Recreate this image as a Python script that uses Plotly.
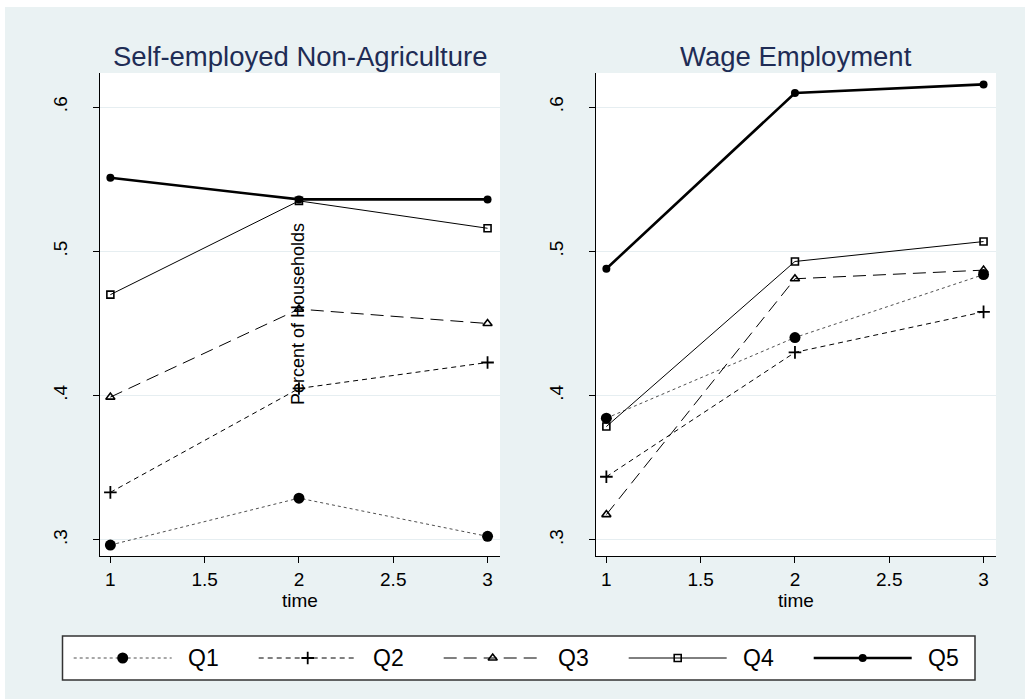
import plotly.graph_objects as go

# Share of households by income quintile, three survey rounds
time = [1, 2, 3]
quintiles = ["Q1", "Q2", "Q3", "Q4", "Q5"]

self_employed = {
    "Q1": [0.2965, 0.329, 0.3025],
    "Q2": [0.333, 0.405, 0.423],
    "Q3": [0.399, 0.460, 0.450],
    "Q4": [0.470, 0.535, 0.516],
    "Q5": [0.551, 0.536, 0.536],
}
wage_employment = {
    "Q1": [0.3844, 0.4403, 0.4839],
    "Q2": [0.3438, 0.430, 0.4581],
    "Q3": [0.3176, 0.481, 0.487],
    "Q4": [0.3786, 0.493, 0.5068],
    "Q5": [0.488, 0.6097, 0.6157],
}

panel_titles = ["Self-employed Non-Agriculture", "Wage Employment"]
y_ticks = [0.3, 0.4, 0.5, 0.6]
y_tick_text = [".3", ".4", ".5", ".6"]
x_ticks = [1, 1.5, 2, 2.5, 3]
x_tick_text = ["1", "1.5", "2", "2.5", "3"]

W, H = 1025, 699
BG = "#EAF2F3"
FONT = "Liberation Sans, Arial, sans-serif"

styles = {
    "Q1": dict(line=dict(color="#505050", width=1, dash="dot"),
               marker=dict(symbol="circle", size=11, color="black")),
    "Q2": dict(line=dict(color="black", width=1, dash="5px,4px"),
               marker=dict(symbol="cross-thin", size=9, color="black",
                           line=dict(color="black", width=1.8))),
    "Q3": dict(line=dict(color="black", width=1, dash="13px,7px"),
               marker=dict(symbol="triangle-up-open", size=8, color="black",
                           line=dict(color="black", width=1.6))),
    "Q4": dict(line=dict(color="black", width=1),
               marker=dict(symbol="square-open", size=7, color="black",
                           line=dict(color="black", width=1.6))),
    "Q5": dict(line=dict(color="black", width=2.6),
               marker=dict(symbol="circle", size=8, color="black")),
}


def px_x(p):
    return p / W


def px_y(p):
    return 1 - p / H


fig = go.Figure()

# Two panels
for k, data in enumerate([self_employed, wage_employment]):
    ax = "" if k == 0 else "2"
    for q in quintiles:
        fig.add_trace(go.Scatter(
            x=time, y=data[q], mode="lines+markers", name=q,
            xaxis="x" + ax, yaxis="y" + ax, showlegend=False,
            line=styles[q]["line"], marker=styles[q]["marker"],
        ))

# Key drawn along its own axis under the panels
key_left, key_right = 62.5, 975
key_centers = [122.7, 307.7, 492.7, 677.7, 862.7]
half = 49
for q, c in zip(quintiles, key_centers):
    fig.add_trace(go.Scatter(
        x=[c - half, c + half], y=[0, 0], mode="lines",
        xaxis="x3", yaxis="y3", showlegend=False, hoverinfo="skip",
        line=styles[q]["line"],
    ))
    fig.add_trace(go.Scatter(
        x=[c], y=[0], mode="markers",
        xaxis="x3", yaxis="y3", showlegend=False, hoverinfo="skip",
        marker=styles[q]["marker"],
    ))

annotations = []
for q, c in zip(quintiles, key_centers):
    annotations.append(dict(
        x=c + 63, y=0, xref="x3", yref="y3", text=q, showarrow=False,
        xanchor="left", yanchor="middle", font=dict(size=23, color="black", family=FONT),
    ))

x_domains = [[px_x(100), px_x(500)], [px_x(596), px_x(996)]]
y_domain = [px_y(556), px_y(73)]

for t, d in zip(panel_titles, x_domains):
    annotations.append(dict(
        x=(d[0] + d[1]) / 2, y=px_y(57), xref="paper", yref="paper", text=t,
        showarrow=False, xanchor="center", yanchor="middle",
        font=dict(size=27.5, color="#1E2C55", family=FONT),
    ))

annotations.append(dict(
    x=px_x(298), y=px_y(314), xref="paper", yref="paper",
    text="Percent of Households", textangle=-90, showarrow=False,
    xanchor="center", yanchor="middle",
    font=dict(size=18, color="black", family=FONT),
))

axis_common = dict(
    showline=True, linecolor="black", linewidth=1,
    ticks="outside", ticklen=6, tickcolor="black", tickwidth=1,
    zeroline=False, tickfont=dict(size=19, color="black", family=FONT),
)

xaxis_cfg = dict(
    axis_common, range=[0.945, 3.066], tickvals=x_ticks, ticktext=x_tick_text,
    showgrid=False,
    title=dict(text="time", font=dict(size=19, color="black", family=FONT), standoff=0),
)
yaxis_cfg = dict(
    axis_common, range=[0.2889, 0.6236], tickvals=y_ticks, ticktext=y_tick_text,
    tickangle=-90, showgrid=True, gridcolor="#E6EEF1", gridwidth=1,
    ticklabelstandoff=18,
)

shapes = [
    # white strips along the top and left edge of the page
    dict(type="rect", xref="paper", yref="paper", x0=0, x1=1, y0=px_y(7), y1=1,
         fillcolor="white", line=dict(width=0), layer="below"),
    dict(type="rect", xref="paper", yref="paper", x0=0, x1=px_x(5), y0=0, y1=1,
         fillcolor="white", line=dict(width=0), layer="below"),
    # key frame
    dict(type="rect", xref="paper", yref="paper",
         x0=px_x(key_left), x1=px_x(key_right), y0=px_y(680), y1=px_y(636),
         fillcolor="rgba(0,0,0,0)", line=dict(color="#333333", width=1.5), layer="above"),
]

fig.update_layout(
    width=W, height=H, autosize=False,
    margin=dict(l=0, r=0, t=0, b=0),
    paper_bgcolor=BG, plot_bgcolor="white",
    font=dict(family=FONT, color="black"),
    xaxis=dict(xaxis_cfg, domain=x_domains[0], anchor="y"),
    yaxis=dict(yaxis_cfg, domain=y_domain, anchor="x"),
    xaxis2=dict(xaxis_cfg, domain=x_domains[1], anchor="y2"),
    yaxis2=dict(yaxis_cfg, domain=y_domain, anchor="x2"),
    xaxis3=dict(domain=[px_x(key_left), px_x(key_right)], range=[key_left, key_right],
                anchor="y3", visible=False, fixedrange=True),
    yaxis3=dict(domain=[px_y(680), px_y(636)], range=[-1, 1], anchor="x3",
                visible=False, fixedrange=True),
    annotations=annotations,
    shapes=shapes,
    showlegend=False,
)

fig.write_html("out.html")
